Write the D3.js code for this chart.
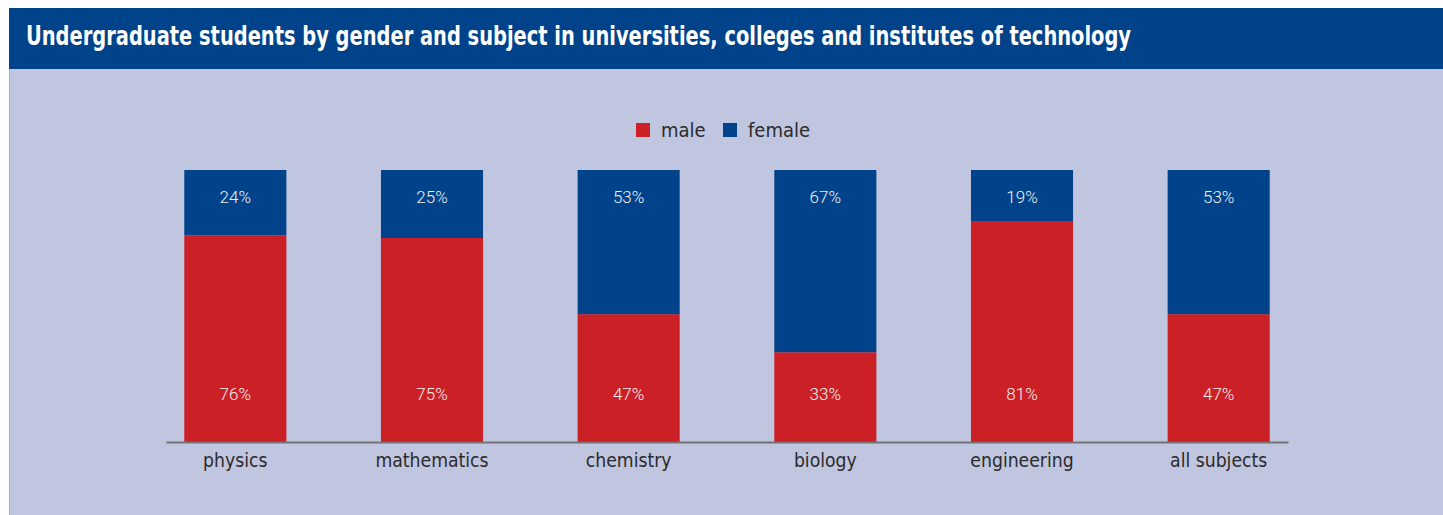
<!DOCTYPE html>
<html>
<head>
<meta charset="utf-8">
<script src="https://cdn.jsdelivr.net/npm/d3@7"></script>
<style>
  html, body { margin: 0; padding: 0; background: #ffffff; }
  svg { display: block; }
</style>
</head>
<body>
<svg id="chart" width="1443" height="515"></svg>
<script>
// Undergraduate students by gender and subject (share of students, %)
const categories = ["physics", "mathematics", "chemistry", "biology", "engineering", "all subjects"];
const maleShare = [76, 75, 47, 33, 81, 47];
const femaleShare = [24, 25, 53, 67, 19, 53];
const seriesNames = ["male", "female"];
const titleText = "Undergraduate students by gender and subject in universities, colleges and institutes of technology";

const W = 1443, H = 515;
const BLUE = "#00438a", RED = "#cc2027", BG = "#c0c5e0";
const NARROW = "'Liberation Sans Narrow', 'DejaVu Sans Condensed', 'Roboto', sans-serif";

const svg = d3.select("#chart");

// panel background with title bar
svg.append("rect").attr("x", 9).attr("y", 8).attr("width", W - 9).attr("height", H - 8).attr("fill", BG);
svg.append("line").attr("x1", 9.5).attr("x2", 9.5).attr("y1", 8).attr("y2", H)
  .attr("stroke", "#a9acbd").attr("stroke-width", 1);
svg.append("rect").attr("x", 9).attr("y", 8).attr("width", W - 9).attr("height", 61).attr("fill", BLUE);
svg.append("text")
  .attr("x", 26).attr("y", 45)
  .attr("fill", "#ffffff")
  .attr("font-family", NARROW)
  .attr("font-weight", "bold")
  .attr("font-size", 27)
  .attr("textLength", 1105)
  .attr("lengthAdjust", "spacingAndGlyphs")
  .text(titleText);

// scales
const x = d3.scaleBand().domain(categories).range([166, 1288]).paddingInner(0.481).paddingOuter(0.093);
const y = d3.scaleLinear().domain([0, 100]).range([442, 170]);
const color = d3.scaleOrdinal().domain(seriesNames).range([RED, BLUE]);

const rows = categories.map((c, i) => ({ category: c, male: maleShare[i], female: femaleShare[i] }));
const stacked = d3.stack().keys(seriesNames)(rows);

const g = svg.append("g");
stacked.forEach(layer => {
  g.selectAll(null).data(layer).join("rect")
    .attr("x", d => x(d.data.category))
    .attr("width", x.bandwidth())
    .attr("y", d => y(d[1]))
    .attr("height", d => y(d[0]) - y(d[1]))
    .attr("fill", color(layer.key));
});

// value labels: male near the bottom, female near the top of each bar
const labelFont = "Roboto, sans-serif";
g.selectAll(null).data(rows).join("text")
  .attr("x", d => x(d.category) + x.bandwidth() / 2)
  .attr("y", y(15.5))
  .attr("text-anchor", "middle")
  .attr("fill", "#f0f0f0")
  .attr("font-family", labelFont)
  .attr("font-weight", 300)
  .attr("font-size", 17)
  .text(d => d.male + "%");
g.selectAll(null).data(rows).join("text")
  .attr("x", d => x(d.category) + x.bandwidth() / 2)
  .attr("y", y(87.8))
  .attr("text-anchor", "middle")
  .attr("fill", "#f0f0f0")
  .attr("font-family", labelFont)
  .attr("font-weight", 300)
  .attr("font-size", 17)
  .text(d => d.female + "%");

// category axis
const axis = svg.append("g").attr("transform", `translate(0,${y(0)})`)
  .call(d3.axisBottom(x).tickSize(0).tickPadding(11));
axis.select(".domain").attr("stroke", "#737373").attr("stroke-width", 2);
axis.selectAll("text")
  .attr("fill", "#2b2b2b")
  .attr("font-family", NARROW)
  .attr("font-size", 19.2)
  .attr("dy", "0.71em");

// legend
const legend = svg.append("g");
const legendX = [636, 723];
seriesNames.forEach((s, i) => {
  legend.append("rect").attr("x", legendX[i]).attr("y", 123).attr("width", 14).attr("height", 14).attr("fill", color(s));
  legend.append("text").attr("x", legendX[i] + 25).attr("y", 137)
    .attr("fill", "#2b2b2b").attr("font-family", NARROW).attr("font-size", 20).text(s);
});
</script>
</body>
</html>
